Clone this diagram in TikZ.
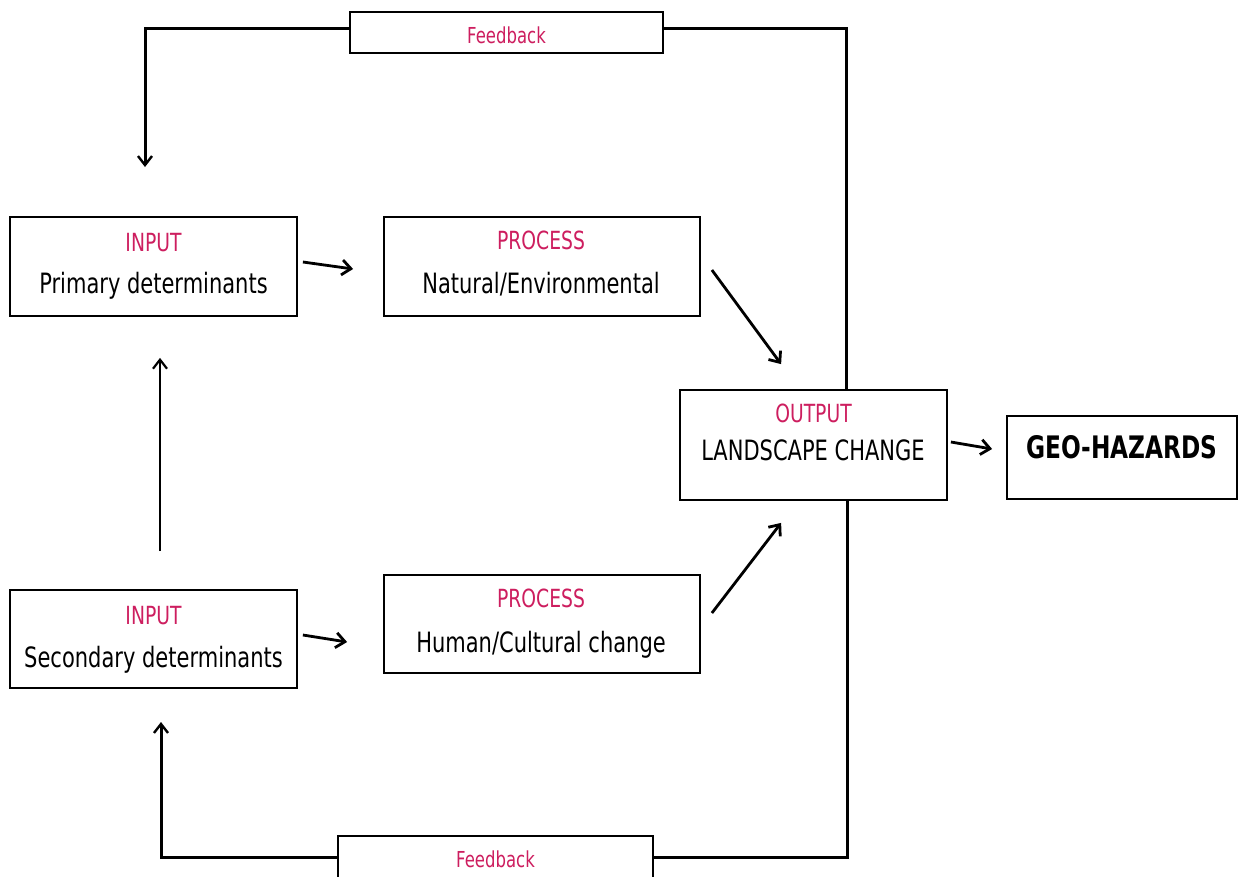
\documentclass[tikz,border=0pt]{standalone}
\usepackage{fontspec}
\setmainfont{DejaVu Sans}[FakeStretch=0.75]
\usetikzlibrary{arrows.meta,calc}
\definecolor{pk}{RGB}{205,30,95}
\tikzset{
  boxnode/.style={draw=black,line width=1.8pt,rectangle,inner sep=0pt},
  blk/.style={anchor=base,inner sep=0pt,font=\fontsize{28}{32}\selectfont,text=black},
  pnk/.style={anchor=base,inner sep=0pt,font=\fontsize{25}{28}\selectfont,text=pk},
  fbt/.style={anchor=base,inner sep=0pt,font=\fontsize{22}{26}\selectfont,text=pk},
  geot/.style={anchor=base,inner sep=0pt,font=\bfseries\fontsize{31}{36}\selectfont,text=black},
  arr/.style={line width=2.8pt,-{Straight Barb[length=9pt,width=15pt,line width=2.8pt]}},
  varr/.style={line width=2.2pt,-{Straight Barb[length=9pt,width=14pt,line width=2.2pt]}},
  fbline/.style={line width=3pt},
}
\begin{document}
\begin{tikzpicture}[x=1pt,y=-1pt]
\useasboundingbox (0,0) rectangle (1244,876);
% boxes
\node[boxnode,minimum width=313pt,minimum height=41pt] (fbtop) at (506.5,32.5) {};
\node[boxnode,minimum width=287pt,minimum height=99pt] (in1) at (153.5,266.5) {};
\node[boxnode,minimum width=316pt,minimum height=99pt] (pr1) at (542,266.5) {};
\node[boxnode,minimum width=267pt,minimum height=110pt] (out) at (813.5,445) {};
\node[boxnode,minimum width=230pt,minimum height=83pt] (geo) at (1122,457.5) {};
\node[boxnode,minimum width=287pt,minimum height=98pt] (in2) at (153.5,639) {};
\node[boxnode,minimum width=316pt,minimum height=98pt] (pr2) at (542,624) {};
\node[boxnode,minimum width=315pt,minimum height=46pt] (fbbot) at (495.5,859) {};
% texts
\node[fbt] (fbtopT) at (506.5,43.5) {Feedback};
\node[fbt] (fbbotT) at (495.5,867.5) {Feedback};
\node[pnk] (in1a) at (153.5,251) {INPUT};
\node[blk] (in1b) at (153.5,293) {Primary determinants};
\node[pnk] (pr1a) at (541,249) {PROCESS};
\node[blk] (pr1b) at (541,293) {Natural/Environmental};
\node[pnk] (outa) at (813.5,422) {OUTPUT};
\node[blk] (outb) at (813,460) {LANDSCAPE CHANGE};
\node[geot] (geoa) at (1122,458) {GEO-HAZARDS};
\node[pnk] (in2a) at (153.5,624) {INPUT};
\node[blk] (in2b) at (153.5,667) {Secondary determinants};
\node[pnk] (pr2a) at (541,607) {PROCESS};
\node[blk] (pr2b) at (541,652) {Human/Cultural change};
% arrows
\draw[arr] ($(in1.east)+(5,-4.5)$) -- ($(pr1.west)+(-30,2.5)$);
\draw[arr] ($(pr1.east)+(11,3.5)$) -- ($(out.north west)+(102,-25)$);
\draw[arr] ($(out.east)+(3,-3)$) -- ($(geo.west)+(-14,-8.5)$);
\draw[arr] ($(in2.east)+(5,-4)$) -- ($(pr2.west)+(-36,18)$);
\draw[arr] ($(pr2.east)+(11,-11)$) -- ($(out.south west)+(102,22)$);
\draw[varr] ($(in2.north)+(6.5,-38)$) -- ($(in1.south)+(6.5,41)$);
% feedback loops
\coordinate (ctop) at (846,28);
\coordinate (ltop) at (145,28);
\coordinate (ltip) at (145,167);
\coordinate (cbot) at (847,857);
\coordinate (lbot) at (161,857);
\coordinate (lbtip) at (161,722);
\draw[fbline] (out.north -| ctop) -- (ctop) -- (fbtop.east |- ctop);
\draw[fbline,-{Straight Barb[length=9pt,width=14pt,line width=2.4pt]}] (fbtop.west |- ltop) -- (ltop) -- (ltip);
\draw[fbline] (out.south -| cbot) -- (cbot) -- (fbbot.east |- cbot);
\draw[fbline,-{Straight Barb[length=9pt,width=14pt,line width=2.4pt]}] (fbbot.west |- lbot) -- (lbot) -- (lbtip);
\end{tikzpicture}
\end{document}
